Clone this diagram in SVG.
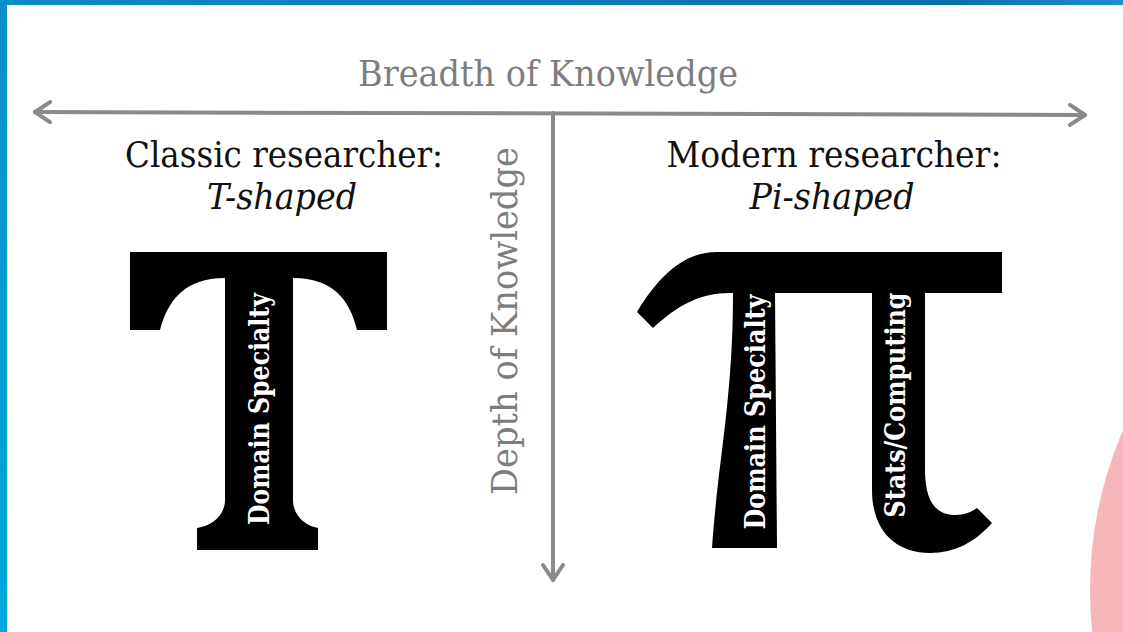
<svg xmlns="http://www.w3.org/2000/svg" width="1123" height="632" viewBox="0 0 1123 632">
  <defs>
    <linearGradient id="topBand" x1="0" y1="0" x2="1" y2="0">
      <stop offset="0" stop-color="#0b8cc6"/>
      <stop offset="0.85" stop-color="#0a6fa8"/>
      <stop offset="1" stop-color="#1c8fcf"/>
    </linearGradient>
    <linearGradient id="leftBand" x1="0" y1="0" x2="0" y2="1">
      <stop offset="0" stop-color="#0b8ec8"/>
      <stop offset="1" stop-color="#00aade"/>
    </linearGradient>
    <marker id="chev" viewBox="0 0 20 24" refX="18" refY="12" markerWidth="20" markerHeight="24" markerUnits="userSpaceOnUse" orient="auto-start-reverse">
      <path d="M3 2 L18 12 L3 22" fill="none" stroke="#8a8a8a" stroke-width="4" stroke-linecap="round" stroke-linejoin="round"/>
    </marker>
    <style>
      .axisLabel { font-family: "DejaVu Serif", "Liberation Serif", serif; font-size: 35px; fill: #7d7d7d; }
      .title { font-family: "DejaVu Serif", "Liberation Serif", serif; font-size: 35px; fill: #111111; }
      .sub { font-family: "DejaVu Serif", "Liberation Serif", serif; font-size: 35px; font-style: italic; fill: #111111; }
      .inLabel { font-family: "DejaVu Serif Condensed", "DejaVu Serif", "Liberation Serif", serif; font-size: 27px; font-weight: bold; fill: #ffffff; }
      .glyph { fill: #000000; }
      .axis { stroke: #8a8a8a; stroke-width: 4; fill: none; stroke-linecap: round; }
    </style>
  </defs>

  <rect x="0" y="0" width="1123" height="632" fill="#ffffff"/>
  <circle cx="1494" cy="590" r="404" fill="#f7b6ba"/>
  <rect x="0" y="0" width="1123" height="5" fill="url(#topBand)"/>
  <rect x="0" y="0" width="7" height="632" fill="url(#leftBand)"/>

  <g id="connectors">
    <line class="axis" x1="35" y1="112" x2="1085" y2="115" marker-start="url(#chev)" marker-end="url(#chev)"/>
    <line class="axis" x1="553" y1="113" x2="553" y2="580" marker-end="url(#chev)"/>
  </g>

  <g id="breadth-label">
    <text class="axisLabel" x="548" y="86" text-anchor="middle" textLength="380" lengthAdjust="spacingAndGlyphs">Breadth of Knowledge</text>
  </g>

  <g id="depth-label">
    <text class="axisLabel" transform="translate(517,321) rotate(-90)" x="0" y="0" text-anchor="middle" textLength="348" lengthAdjust="spacingAndGlyphs">Depth of Knowledge</text>
  </g>

  <g id="classic-title">
    <text class="title" x="284" y="167" text-anchor="middle" textLength="318" lengthAdjust="spacingAndGlyphs">Classic researcher:</text>
    <text class="sub" x="282" y="209" text-anchor="middle" textLength="150" lengthAdjust="spacingAndGlyphs">T-shaped</text>
  </g>

  <g id="modern-title">
    <text class="title" x="834" y="167" text-anchor="middle" textLength="335" lengthAdjust="spacingAndGlyphs">Modern researcher:</text>
    <text class="sub" x="832" y="209" text-anchor="middle" textLength="165" lengthAdjust="spacingAndGlyphs">Pi-shaped</text>
  </g>

  <g id="t-shape">
    <path class="glyph" d="M130 252 L387 252 L387 330 L357 330 C350 300 333 278 293 278 L293 500 C293 515 305 526 318 528 L318 550 L197 550 L197 528 C212 526 225 515 225 500 L225 278 C185 278 168 300 160 330 L130 330 Z"/>
    <text class="inLabel" transform="translate(269,409) rotate(-90)" x="0" y="0" text-anchor="middle" textLength="232" lengthAdjust="spacingAndGlyphs">Domain Specialty</text>
  </g>

  <g id="pi-shape">
    <path class="glyph" d="M717 252 L1002 252 L1002 293 L925 293 L925 470 C925 500 935 515 955 515 C965 515 971 512 977 508 L992 523 C975 542 955 553 930 553 C895 553 872 530 872 490 L872 293 L775 293 L777 548 L712 548 C718 460 733 400 733 293 L730 293 C700 293 678 305 653 328 L637 312 C662 270 688 252 717 252 Z"/>
    <text class="inLabel" transform="translate(765,412) rotate(-90)" x="0" y="0" text-anchor="middle" textLength="235" lengthAdjust="spacingAndGlyphs">Domain Specialty</text>
    <text class="inLabel" transform="translate(905,405) rotate(-90)" x="0" y="0" text-anchor="middle" textLength="225" lengthAdjust="spacingAndGlyphs">Stats/Computing</text>
  </g>
</svg>
